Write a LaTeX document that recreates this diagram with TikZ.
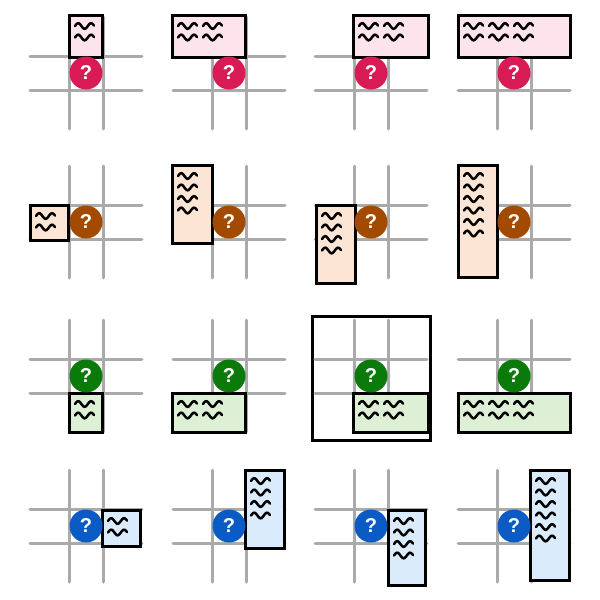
\documentclass[tikz,border=0pt]{standalone}
\usepackage{fontspec}
\setmainfont{Liberation Sans}
\definecolor{pkf}{HTML}{FDE4EC}\definecolor{pkc}{HTML}{D81B55}
\definecolor{orf}{HTML}{FDE5D5}\definecolor{orc}{HTML}{A14A00}
\definecolor{grf}{HTML}{DDEFD5}\definecolor{grc}{HTML}{0A7A0A}
\definecolor{blf}{HTML}{DAEBFC}\definecolor{blc}{HTML}{0A5BC4}
\definecolor{gl}{HTML}{AAAAAA}
\tikzset{
 gridl/.style={draw=gl,line width=3pt,line cap=round},
 q/.style={circle,minimum size=33pt,inner sep=0pt,text=white,font=\bfseries\fontsize{20}{20}\selectfont},
 bx/.style={draw=black,line width=3pt,inner sep=0pt},
 wave/.style={line width=2.5pt,line cap=round},
 frame/.style={draw=black,line width=3pt}
}
\newcommand\mycell[4]{%
 \draw[gridl] (#2-56,#3-17) -- (#2+56,#3-17);
 \draw[gridl] (#2-56,#3+17) -- (#2+56,#3+17);
 \draw[gridl] (#2-17,#3-56) -- (#2-17,#3+56);
 \draw[gridl] (#2+17,#3-56) -- (#2+17,#3+56);
}
\newcommand\myq[4]{\node[q,fill=#4] (#1) at (#2,#3) {?};}
\newcommand\mybox[8]{%
 \node[bx,fill=#6,minimum width={(#4-#2)*1pt},minimum height={(#5-#3)*1pt}] (#1) at ({(#2+#4)/2},{(#3+#5)/2}) {};
 \foreach \c in {1,...,#7}{\foreach \r in {1,...,#8}{
  \draw[wave] plot[domain=0:19,samples=25,smooth] ({#2+6+(\c-1)*25+\x},{#3+11+(\r-1)*11.5-2.8*sin(\x*28)});
 }}%
}
\begin{document}
\begin{tikzpicture}[x=1pt,y=-1pt]
\useasboundingbox (0,0) rectangle (600,600);
\fill[white] (0,0) rectangle (600,600);
% row 1
\mycell{a}{86}{73}{}\mycell{b}{229}{73}{}\mycell{c}{371}{73}{}\mycell{d}{514}{73}{}
\mybox{a1}{69}{15}{102}{57}{pkf}{1}{2}
\mybox{b1}{172}{15}{245}{57}{pkf}{2}{2}
\mybox{c1}{353}{15}{428}{57}{pkf}{2}{2}
\mybox{d1}{458}{15}{570}{57}{pkf}{3}{2}
\myq{aq}{86}{73}{pkc}\myq{bq}{229}{73}{pkc}\myq{cq}{371}{73}{pkc}\myq{dq}{514}{73}{pkc}
% row 2
\mycell{e}{86}{222}{}\mycell{f}{229}{222}{}\mycell{g}{371}{222}{}\mycell{h}{514}{222}{}
\mybox{e1}{30}{205}{68}{240}{orf}{1}{2}
\mybox{f1}{172}{165}{212}{243}{orf}{1}{4}
\mybox{g1}{316}{205}{355}{283}{orf}{1}{4}
\mybox{h1}{458}{165}{497}{277}{orf}{1}{6}
\myq{eq}{86}{222}{orc}\myq{fq}{229}{222}{orc}\myq{gq}{371}{222}{orc}\myq{hq}{514}{222}{orc}
% row 3
\draw[frame] (312,316) rectangle (430,440);
\mycell{i}{86}{376}{}\mycell{j}{229}{376}{}\mycell{k}{371}{376}{}\mycell{l}{514}{376}{}
\mybox{i1}{69}{393}{102}{432}{grf}{1}{2}
\mybox{j1}{172}{393}{245}{432}{grf}{2}{2}
\mybox{k1}{353}{393}{428}{432}{grf}{2}{2}
\mybox{l1}{458}{393}{570}{432}{grf}{3}{2}
\myq{iq}{86}{376}{grc}\myq{jq}{229}{376}{grc}\myq{kq}{371}{376}{grc}\myq{lq}{514}{376}{grc}
% row 4
\mycell{m}{86}{526}{}\mycell{n}{229}{526}{}\mycell{o}{371}{526}{}\mycell{p}{514}{526}{}
\mybox{m1}{102}{510}{140}{546}{blf}{1}{2}
\mybox{n1}{245}{470}{284}{548}{blf}{1}{4}
\mybox{o1}{388}{510}{425}{585}{blf}{1}{4}
\mybox{p1}{530}{470}{569}{580}{blf}{1}{6}
\myq{mq}{86}{526}{blc}\myq{nq}{229}{526}{blc}\myq{oq}{371}{526}{blc}\myq{pq}{514}{526}{blc}
\end{tikzpicture}
\end{document}
